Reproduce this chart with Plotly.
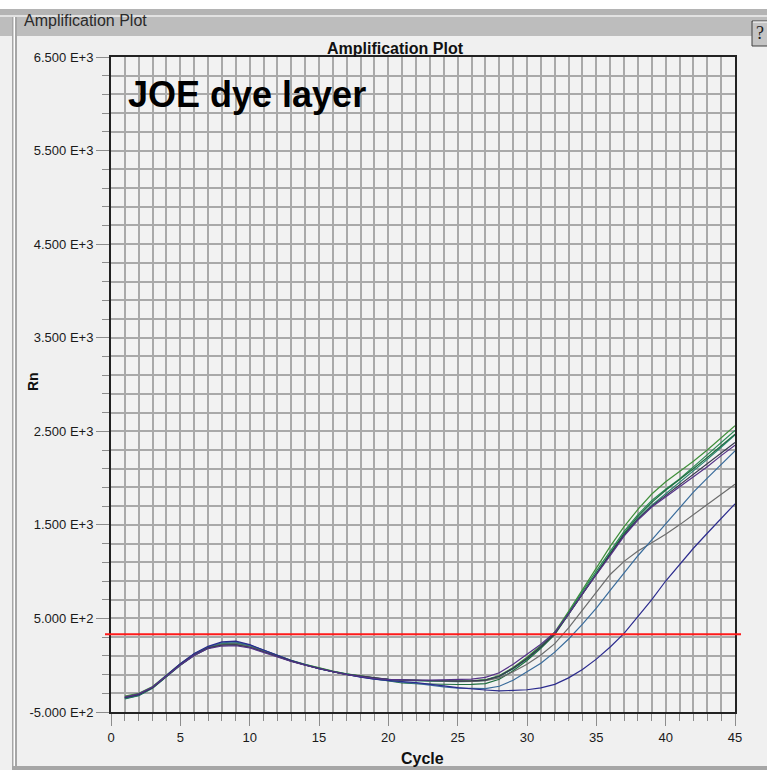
import plotly.graph_objects as go

# ---------------- data ----------------
cycles = list(range(1, 46))

curve_green_top = [-330, -300, -228, -110, 15, 120, 195, 232, 240, 212, 160, 100, 52, 10, -30, -62, -92, -115, -135, -150,
                   -158, -162, -166, -168, -170, -166, -155, -110, -25, 85, 210, 355, 575, 810, 1045, 1270, 1480, 1665, 1830, 1960,
                   2070, 2180, 2300, 2430, 2560]
curve_green = [-350, -318, -238, -118, 8, 112, 188, 228, 236, 205, 152, 95, 48, 6, -34, -66, -96, -118, -138, -153,
               -160, -164, -168, -170, -172, -170, -160, -118, -35, 70, 195, 340, 560, 790, 1005, 1220, 1430, 1610, 1760, 1880,
               1990, 2120, 2250, 2380, 2510]
curve_teal = [-360, -325, -245, -125, 0, 105, 182, 222, 232, 204, 150, 92, 45, 3, -38, -68, -98, -120, -140, -155,
              -163, -166, -170, -172, -175, -172, -162, -120, -38, 65, 190, 335, 550, 775, 985, 1195, 1400, 1570, 1710, 1830,
              1950, 2080, 2200, 2330, 2460]
curve_purple = [-340, -305, -232, -115, 2, 105, 178, 205, 208, 185, 138, 85, 40, 0, -38, -70, -100, -122, -142, -152,
                -158, -160, -160, -158, -155, -148, -130, -80, 10, 115, 225, 350, 545, 765, 965, 1170, 1380, 1550, 1690, 1800,
                1900, 2010, 2120, 2240, 2350]
curve_slate = [-345, -312, -240, -120, 5, 110, 185, 215, 218, 192, 142, 88, 44, 2, -37, -68, -98, -118, -138, -152,
               -158, -162, -165, -168, -170, -168, -160, -118, -32, 72, 198, 338, 550, 775, 980, 1185, 1390, 1560, 1700, 1815,
               1925, 2040, 2150, 2265, 2380]
curve_darkgreen = [-355, -322, -242, -122, 3, 108, 183, 220, 226, 198, 146, 90, 44, 2, -38, -70, -100, -122, -145, -168,
                   -190, -198, -202, -205, -206, -205, -196, -150, -60, 50, 180, 328, 545, 770, 985, 1200, 1410, 1590, 1740, 1870,
                   1980, 2100, 2220, 2350, 2470]
curve_gray = [-338, -308, -235, -118, 6, 110, 186, 222, 228, 198, 148, 92, 46, 4, -36, -67, -97, -118, -138, -153,
              -160, -164, -167, -170, -172, -172, -165, -135, -70, 10, 110, 230, 400, 590, 790, 970, 1110, 1220, 1310, 1400,
              1500, 1610, 1720, 1830, 1935]
curve_steelblue = [-350, -318, -238, -115, 12, 120, 198, 240, 248, 215, 160, 100, 50, 6, -36, -68, -100, -125, -150, -168,
                   -182, -195, -215, -232, -244, -250, -250, -225, -160, -70, 20, 140, 280, 440, 610, 800, 990, 1170, 1340, 1510,
                   1680, 1850, 2000, 2150, 2290]
curve_navy = [-345, -315, -236, -112, 15, 125, 202, 250, 258, 220, 162, 100, 50, 5, -38, -70, -102, -128, -150, -165,
              -175, -185, -200, -220, -240, -255, -265, -275, -272, -262, -242, -205, -135, -45, 65, 195, 340, 520, 700, 900,
              1080, 1250, 1410, 1570, 1725]

series = [
    ("green_top", curve_green_top, "#3f8f3a"),
    ("green", curve_green, "#2b8a55"),
    ("teal", curve_teal, "#2a8672"),
    ("darkgreen", curve_darkgreen, "#1f6e40"),
    ("gray", curve_gray, "#6c6c6c"),
    ("steelblue", curve_steelblue, "#3a6c9c"),
    ("navy", curve_navy, "#2b2b8e"),
    ("slate", curve_slate, "#383850"),
    ("purple", curve_purple, "#553388"),
]

threshold = 330
baseline_start = 2
baseline_end = 19

x_tick_vals = [0, 5, 10, 15, 20, 25, 30, 35, 40, 45]
y_tick_vals = [-500, 500, 1500, 2500, 3500, 4500, 5500, 6500]
y_tick_text = ["-5.000 E+2", "5.000 E+2", "1.500 E+3", "2.500 E+3", "3.500 E+3", "4.500 E+3", "5.500 E+3", "6.500 E+3"]

# ---------------- layout geometry (pixels) ----------------
W, H = 767, 770
L, R, T, B = 111, 735, 57, 712


def xp(px):
    return (px - L) / (R - L)


def yp(py):
    return (B - py) / (B - T)


FONT = "Liberation Sans, Arial, sans-serif"
GRID = "#a9a9a9"
TICK = "#8c8c8c"

fig = go.Figure()

for name, vals, col in series:
    fig.add_trace(go.Scatter(x=cycles, y=vals, mode="lines", name=name,
                             line=dict(color=col, width=1.2), hoverinfo="skip"))

# baseline markers
fig.add_trace(go.Scatter(x=[baseline_start], y=[-565], mode="markers",
                         marker=dict(symbol="triangle-se", size=10, color="#ff0000", line=dict(width=0)),
                         cliponaxis=False, hoverinfo="skip"))
fig.add_trace(go.Scatter(x=[baseline_end], y=[-565], mode="markers",
                         marker=dict(symbol="triangle-sw", size=10, color="#ff0000", line=dict(width=0)),
                         cliponaxis=False, hoverinfo="skip"))

shapes = []
# window chrome
shapes.append(dict(type="rect", xref="paper", yref="paper", x0=xp(0), x1=xp(W), y0=yp(0), y1=yp(9),
                   fillcolor="#ffffff", line=dict(width=0), layer="below"))
shapes.append(dict(type="rect", xref="paper", yref="paper", x0=xp(0), x1=xp(W), y0=yp(9), y1=yp(15),
                   fillcolor="#b4b4b4", line=dict(width=0), layer="below"))
shapes.append(dict(type="rect", xref="paper", yref="paper", x0=xp(0), x1=xp(W), y0=yp(15), y1=yp(17),
                   fillcolor="#e2e2e2", line=dict(width=0), layer="below"))
shapes.append(dict(type="rect", xref="paper", yref="paper", x0=xp(0), x1=xp(W), y0=yp(17), y1=yp(36),
                   fillcolor="#bdbdbd", line=dict(width=0), layer="below"))
# left groupbox border
shapes.append(dict(type="rect", xref="paper", yref="paper", x0=xp(12), x1=xp(17), y0=yp(17), y1=yp(768),
                   fillcolor="#a6a6a6", line=dict(width=0), layer="below"))
shapes.append(dict(type="rect", xref="paper", yref="paper", x0=xp(13.5), x1=xp(15), y0=yp(17), y1=yp(767),
                   fillcolor="#ffffff", line=dict(width=0), layer="below"))
# bottom border
shapes.append(dict(type="rect", xref="paper", yref="paper", x0=xp(12), x1=xp(W), y0=yp(766), y1=yp(770),
                   fillcolor="#a6a6a6", line=dict(width=0), layer="below"))
# help button
shapes.append(dict(type="rect", xref="paper", yref="paper", x0=xp(752), x1=xp(770), y0=yp(21), y1=yp(46),
                   fillcolor="#c4c4c4", line=dict(width=1, color="#404040"), layer="below"))
shapes.append(dict(type="line", xref="paper", yref="paper", x0=xp(753), x1=xp(770), y0=yp(22), y1=yp(22),
                   line=dict(width=1, color="#ffffff")))
# threshold
shapes.append(dict(type="line", xref="paper", yref="y", x0=xp(105), x1=xp(741), y0=threshold, y1=threshold,
                   line=dict(width=2, color="#ff1a1a"), layer="above"))

annotations = [
    dict(text="Amplification Plot", xref="paper", yref="paper", x=xp(22), y=yp(21), xanchor="left", yanchor="middle",
         showarrow=False, font=dict(family=FONT, size=16, color="#2a2a2a")),
    dict(text="?", xref="paper", yref="paper", x=xp(760), y=yp(33), xanchor="center", yanchor="middle",
         showarrow=False, font=dict(family="Liberation Serif, serif", size=18, color="#202020")),
    dict(text="<b>Amplification Plot</b>", xref="paper", yref="paper", x=xp(395), y=yp(48), xanchor="center",
         yanchor="middle", showarrow=False, font=dict(family=FONT, size=16, color="#111111")),
    dict(text="<b>JOE dye layer</b>", xref="paper", yref="paper", x=xp(126), y=yp(94), xanchor="left",
         yanchor="middle", showarrow=False, font=dict(family=FONT, size=36, color="#000000")),
    dict(text="<b>Rn</b>", xref="paper", yref="paper", x=xp(33), y=yp(382), xanchor="center", yanchor="middle",
         textangle=-90, showarrow=False, font=dict(family=FONT, size=14, color="#111111")),
    dict(text="<b>Cycle</b>", xref="paper", yref="paper", x=xp(422), y=yp(758), xanchor="center", yanchor="middle",
         showarrow=False, font=dict(family=FONT, size=16, color="#111111")),
]

fig.update_layout(
    width=W, height=H,
    margin=dict(l=L, r=W - R, t=T, b=H - B, pad=0),
    paper_bgcolor="#f0f0f0",
    plot_bgcolor="#f2f2f2",
    showlegend=False,
    shapes=shapes,
    annotations=annotations,
    xaxis=dict(
        range=[0, 45], tickmode="array", tickvals=x_tick_vals, ticktext=[str(v) for v in x_tick_vals],
        ticks="outside", ticklen=12, tickwidth=1, tickcolor=TICK,
        showgrid=True, gridcolor=GRID, gridwidth=2, zeroline=False,
        showline=True, linecolor="#222222", linewidth=2, mirror=True,
        tickfont=dict(family=FONT, size=13, color="#1a1a1a"),
        minor=dict(tickmode="linear", tick0=0, dtick=1, ticks="outside", ticklen=7, tickcolor=TICK,
                   showgrid=True, gridcolor=GRID, gridwidth=2),
        fixedrange=True,
    ),
    yaxis=dict(
        range=[-500, 6500], tickmode="array", tickvals=y_tick_vals, ticktext=y_tick_text,
        ticks="outside", ticklen=13, tickwidth=1, tickcolor=TICK,
        showgrid=True, gridcolor=GRID, gridwidth=2, zeroline=False,
        showline=True, linecolor="#222222", linewidth=2, mirror=True,
        tickfont=dict(family=FONT, size=13, color="#1a1a1a"),
        minor=dict(tickmode="linear", tick0=-500, dtick=200, ticks="outside", ticklen=7, tickcolor=TICK,
                   showgrid=True, gridcolor=GRID, gridwidth=2),
        fixedrange=True,
    ),
)

fig.write_html("out.html", config={"displayModeBar": False},
               post_script="document.body.style.margin='0';document.body.style.overflow='hidden';")
